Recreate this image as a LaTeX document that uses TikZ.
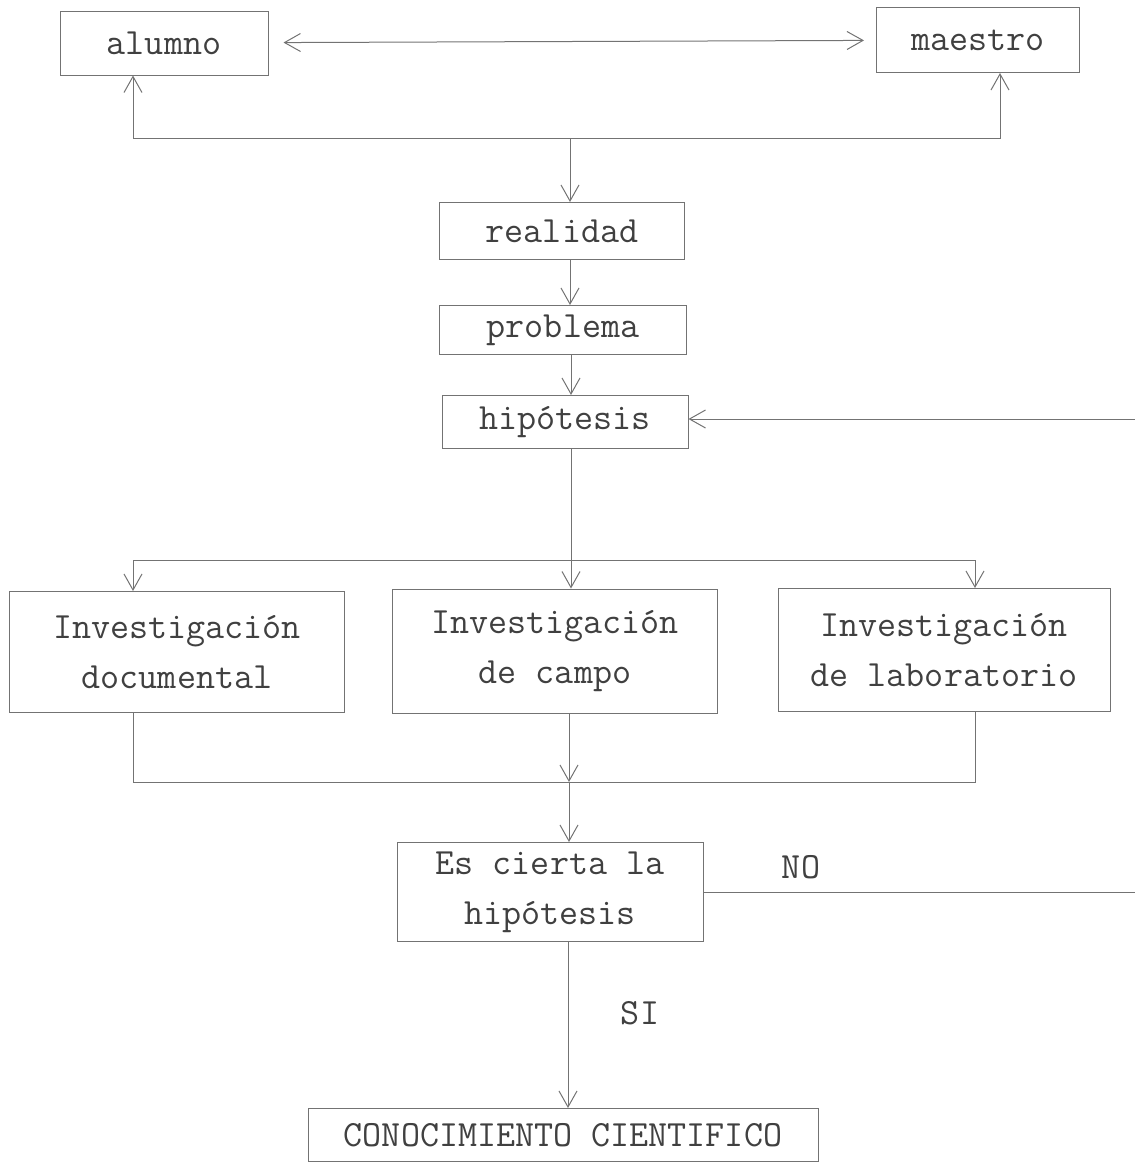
\documentclass[tikz,border=0pt]{standalone}
\usepackage{fontspec}
\usetikzlibrary{arrows.meta}
\begin{document}
\begin{tikzpicture}[x=1pt,y=-1pt,
  box/.style={draw=black!55,line width=1pt,inner sep=0pt,align=center,text=black!75,
    font=\ttfamily\fontsize{37}{50}\selectfont},
  lbl/.style={text=black!75,font=\ttfamily\fontsize{37}{40}\selectfont},
  link/.style={draw=black!55,line width=1pt},
  >={Straight Barb[length=16pt,width=18pt]}]
\useasboundingbox (0,0) rectangle (1135,1163);

% Boxes
\node[box,minimum width=208pt,minimum height=64pt] (alumno) at (164,43) {alumno};
\node[box,minimum width=203pt,minimum height=65pt] (maestro) at (978,40) {maestro};
\node[box,minimum width=245pt,minimum height=57pt] (realidad) at (562,231) {realidad};
\node[box,minimum width=247pt,minimum height=49pt] (problema) at (563,330) {problema};
\node[box,minimum width=246pt,minimum height=53pt] (hipotesis) at (565,422) {hipótesis};
\node[box,minimum width=335pt,minimum height=121pt] (docum) at (177,652) {Investigación\\documental};
\node[box,minimum width=325pt,minimum height=124pt] (campo) at (555,651) {Investigación\\de campo};
\node[box,minimum width=332pt,minimum height=123pt] (labor) at (944,650) {Investigación\\de laboratorio};
\node[box,minimum width=306pt,minimum height=99pt] (cierta) at (550,892) {Es cierta la\\hipótesis};
\node[box,minimum width=510pt,minimum height=53pt] (conoc) at (563,1135) {CONOCIMIENTO CIENTIFICO};

% Labels
\node[lbl] (no) at (801,867) {NO};
\node[lbl] (si) at (640,1013) {SI};

% Junction points
\coordinate (la) at (133,138);
\coordinate (lm) at (1000,138);
\coordinate (lr) at (570,138);
\coordinate (b1) at (133,560);
\coordinate (br) at (571,560);
\coordinate (b3) at (975,560);
\coordinate (m1) at (133,782);
\coordinate (mc) at (569,782);
\coordinate (m3) at (975,782);
\coordinate (fb) at (1135,419);
\coordinate (nx) at (1135,892);
\coordinate (sx) at (568,1013);

% Top loop
\draw[link,<->,shorten <=15pt,shorten >=12pt] (alumno) -- (maestro);
\draw[link,<->] (alumno.south -| la) -- (la) -- (lm) -- (maestro.south -| lm);
\draw[link,->] (lr) -- (realidad.north -| lr);

% Main chain
\draw[link,->] (realidad.south -| lr) -- (problema.north -| lr);
\draw[link,->] (problema.south -| br) -- (hipotesis.north -| br);
\draw[link,->] (fb) -- (fb -| hipotesis.east);

% Branch
\draw[link] (hipotesis.south -| br) -- (br);
\draw[link] (b1) -- (b3);
\draw[link,->] (b1) -- (docum.north -| b1);
\draw[link,->] (br) -- (campo.north -| br);
\draw[link,->] (b3) -- (labor.north -| b3);

% Merge
\draw[link] (docum.south -| m1) -- (m1) -- (m3) -- (labor.south -| m3);
\draw[link,->] (campo.south -| mc) -- (mc);
\draw[link,->] (mc) -- (cierta.north -| mc);

% Decision
\draw[link] (cierta.east |- nx) -- (nx);
\draw[link,->] (cierta.south -| sx) -- (conoc.north -| sx);
\end{tikzpicture}
\end{document}
